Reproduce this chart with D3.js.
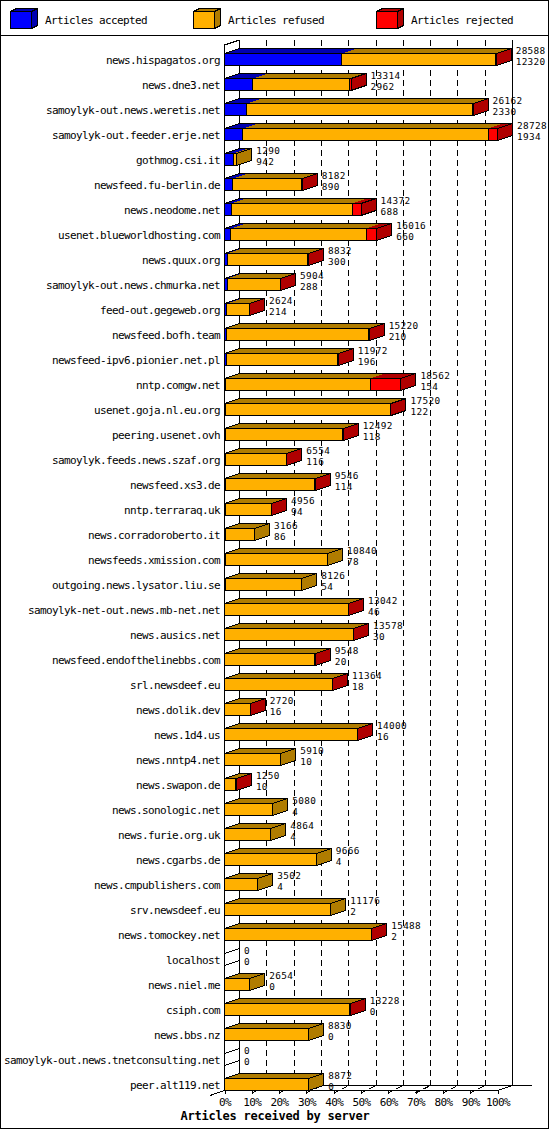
<!DOCTYPE html>
<html>
<head>
<meta charset="utf-8">
<script src="https://cdn.jsdelivr.net/npm/d3@7"></script>
<style>
  body { margin: 0; background: #fff; }
  text { font-family: "DejaVu Sans Mono", monospace; font-size: 11px; letter-spacing: -0.62px; fill: #000; }
  .val { font-size: 9.4px; letter-spacing: 0.34px; }
  .title { font-weight: bold; font-size: 12px; letter-spacing: -0.22px; }
</style>
</head>
<body>
<div class="container"></div>
<script>
const hosts = ["news.hispagatos.org", "news.dne3.net", "samoylyk-out.news.weretis.net",
  "samoylyk-out.feeder.erje.net", "gothmog.csi.it", "newsfeed.fu-berlin.de", "news.neodome.net",
  "usenet.blueworldhosting.com", "news.quux.org", "samoylyk-out.news.chmurka.net",
  "feed-out.gegeweb.org", "newsfeed.bofh.team", "newsfeed-ipv6.pionier.net.pl", "nntp.comgw.net",
  "usenet.goja.nl.eu.org", "peering.usenet.ovh", "samoylyk.feeds.news.szaf.org", "newsfeed.xs3.de",
  "nntp.terraraq.uk", "news.corradoroberto.it", "newsfeeds.xmission.com",
  "outgoing.news.lysator.liu.se", "samoylyk-net-out.news.mb-net.net", "news.ausics.net",
  "newsfeed.endofthelinebbs.com", "srl.newsdeef.eu", "news.dolik.dev", "news.1d4.us",
  "news.nntp4.net", "news.swapon.de", "news.sonologic.net", "news.furie.org.uk", "news.cgarbs.de",
  "news.cmpublishers.com", "srv.newsdeef.eu", "news.tomockey.net", "localhost", "news.niel.me",
  "csiph.com", "news.bbs.nz", "samoylyk-out.news.tnetconsulting.net", "peer.alt119.net"];

const accepted = [12320, 2962, 2330, 1934, 942, 890, 688, 660, 300, 288, 214, 210, 196, 154,
  122, 118, 116, 114, 94, 86, 78, 54, 46, 30, 20, 18, 16, 16, 10, 10, 4, 4, 4, 4, 2, 2,
  0, 0, 0, 0, 0, 0];
const refused = [16198, 10172, 23788, 25846, 348, 7244, 12748, 14250, 8472, 5572, 2390, 14944,
  11746, 15177, 17348, 12334, 6408, 9402, 4832, 3080, 10762, 8072, 12956, 13508, 9498, 11316,
  2684, 13944, 5900, 1140, 5076, 4860, 9662, 3498, 11174, 15456, 0, 2654, 13188, 8830, 0, 8872];
const rejected = [70, 180, 44, 948, 0, 48, 936, 1106, 60, 44, 20, 66, 30, 3231, 50, 40, 30, 30,
  30, 0, 0, 0, 40, 40, 30, 30, 20, 40, 0, 100, 0, 0, 0, 0, 0, 30, 0, 0, 40, 0, 0, 0];

const seriesNames = ["Articles accepted", "Articles refused", "Articles rejected"];
const pctTicks = [0, 10, 20, 30, 40, 50, 60, 70, 80, 90, 100];
const axisTitle = "Articles received by server";

const faceColors = ["#0000ff", "#ffb000", "#ff0000"];
const shadeColors = ["#0000b0", "#b07c00", "#b00000"];

const W = 550, H = 1130;
const DX = 15, DY = 5, BAR = 12;

const rows = hosts.map((h, i) => {
  const vals = [accepted[i], refused[i], rejected[i]];
  return {host: h, vals: vals, total: d3.sum(vals), acc: accepted[i]};
});

const svg = d3.select(".container").append("svg")
  .attr("width", W).attr("height", H)
  .attr("shape-rendering", "crispEdges");

// frame and legend separator
svg.append("rect").attr("x", 0.5).attr("y", 0.5).attr("width", 548).attr("height", 1128)
  .attr("fill", "#fff").attr("stroke", "#000");
svg.append("line").attr("x1", 0).attr("x2", 549).attr("y1", 35.5).attr("y2", 35.5).attr("stroke", "#000");

// legend cubes
const leg = svg.append("g").selectAll("g").data(seriesNames).join("g")
  .attr("transform", (d, i) => `translate(${10.5 + 183 * i},11.5)`);
leg.append("polygon").attr("points", "0,0 6,-3 27,-3 21,0")
  .attr("fill", (d, i) => shadeColors[i]).attr("stroke", "#000");
leg.append("polygon").attr("points", "21,0 27,-3 27,14 21,17")
  .attr("fill", (d, i) => shadeColors[i]).attr("stroke", "#000");
leg.append("rect").attr("width", 21).attr("height", 17)
  .attr("fill", (d, i) => faceColors[i]).attr("stroke", "#000");
leg.append("text").attr("x", 34.5).attr("y", 12.5).text(d => d);

const maxTotal = d3.max(rows, d => d.total);
const x = d3.scaleLinear().domain([0, maxTotal]).range([224.5, 497.5]);
const pct = d3.scaleLinear().domain([0, 100]).range([224.5, 497.5]);
const y = d3.scaleBand().domain(hosts).range([46.5, 46.5 + 25 * hosts.length]);

const yTop = h => y(h) + 7;
const yBase = 1090.5;

// back walls, grid and floor
const grid = svg.append("g").attr("stroke", "#000").attr("fill", "none");
grid.selectAll(".gl").data(pctTicks.slice(1, -1)).join("line")
  .attr("x1", d => pct(d) + DX).attr("x2", d => pct(d) + DX)
  .attr("y1", 40).attr("y2", yBase - DY)
  .attr("stroke-dasharray", "6,4");
grid.selectAll(".dg").data(pctTicks.slice(1, -1)).join("line")
  .attr("x1", d => pct(d)).attr("y1", yBase + 2.5)
  .attr("x2", d => pct(d) + DX).attr("y2", yBase - DY)
  .attr("stroke-dasharray", "6,3");
grid.append("line").attr("x1", pct(0) + DX).attr("x2", pct(0) + DX).attr("y1", 40).attr("y2", yBase - DY);
grid.append("line").attr("x1", pct(100) + DX).attr("x2", pct(100) + DX).attr("y1", 40).attr("y2", yBase - DY);
grid.append("line").attr("x1", pct(0)).attr("x2", pct(0)).attr("y1", 45).attr("y2", yBase);
grid.append("line").attr("x1", pct(0)).attr("y1", 45).attr("x2", pct(0) + DX).attr("y2", 40);
grid.append("line").attr("x1", pct(0) + DX).attr("x2", 532).attr("y1", yBase - DY).attr("y2", yBase - DY);
grid.append("line").attr("x1", pct(0)).attr("x2", pct(100)).attr("y1", yBase).attr("y2", yBase);
grid.append("line").attr("x1", pct(100)).attr("y1", yBase).attr("x2", pct(100) + DX).attr("y2", yBase - DY);
grid.append("line").attr("x1", 210).attr("y1", yBase + 5).attr("x2", pct(0)).attr("y2", yBase);

// bars
const bars = svg.append("g").selectAll("g").data(rows).join("g");
bars.each(function(r) {
  const g = d3.select(this);
  const t = yTop(r.host);
  const segs = [];
  let c = 0;
  r.vals.forEach((v, k) => { segs.push({k: k, a: x(c), b: x(c + v), v: v}); c += v; });
  const xe = x(r.total);
  const live = segs.filter(s => s.v > 0);
  live.forEach(s => {
    g.append("polygon")
      .attr("points", [[s.a, t], [s.b, t], [s.b + DX, t - DY], [s.a + DX, t - DY]].join(" "))
      .attr("fill", shadeColors[s.k]);
    g.append("rect").attr("x", s.a).attr("y", t).attr("width", s.b - s.a).attr("height", BAR)
      .attr("fill", faceColors[s.k]);
  });
  const last = live.length ? live[live.length - 1].k : 1;
  g.append("polygon")
    .attr("points", [[xe, t], [xe + DX, t - DY], [xe + DX, t - DY + BAR], [xe, t + BAR]].join(" "))
    .attr("fill", r.total > 0 ? shadeColors[last] : "none").attr("stroke", "#000");
  g.append("polygon")
    .attr("points", [[x(0), t], [xe, t], [xe + DX, t - DY], [x(0) + DX, t - DY]].join(" "))
    .attr("fill", "none").attr("stroke", "#000");
  g.append("rect").attr("x", x(0)).attr("y", t).attr("width", xe - x(0)).attr("height", BAR)
    .attr("fill", "none").attr("stroke", "#000");
  live.slice(0, -1).forEach(s => {
    g.append("line").attr("x1", s.b).attr("x2", s.b).attr("y1", t).attr("y2", t + BAR).attr("stroke", "#000");
  });
  // total and accepted, two lines
  g.append("text").attr("class", "val").attr("x", xe + DX + 4.5).attr("y", t + 0.6).text(r.total);
  g.append("text").attr("class", "val").attr("x", xe + DX + 4.5).attr("y", t + 11.6).text(r.acc);
});

// category axis
const yAxis = d3.axisLeft(y).tickSize(0).tickPadding(4.5);
svg.append("g").attr("transform", "translate(224.5,1.5)").call(yAxis)
  .call(g => g.select(".domain").remove())
  .selectAll("text").attr("font-family", null).attr("font-size", null);

// percent axis
const xAxis = d3.axisBottom(pct).tickValues(pctTicks).tickFormat(d => d + "%")
  .tickSize(3).tickPadding(5);
svg.append("g").attr("transform", `translate(0,${yBase})`).call(xAxis)
  .call(g => g.select(".domain").remove())
  .call(g => g.selectAll("text").attr("font-family", null).attr("font-size", null));

svg.append("text").attr("class", "title").attr("x", 275).attr("y", 1120)
  .attr("text-anchor", "middle").text(axisTitle);
</script>
</body>
</html>
